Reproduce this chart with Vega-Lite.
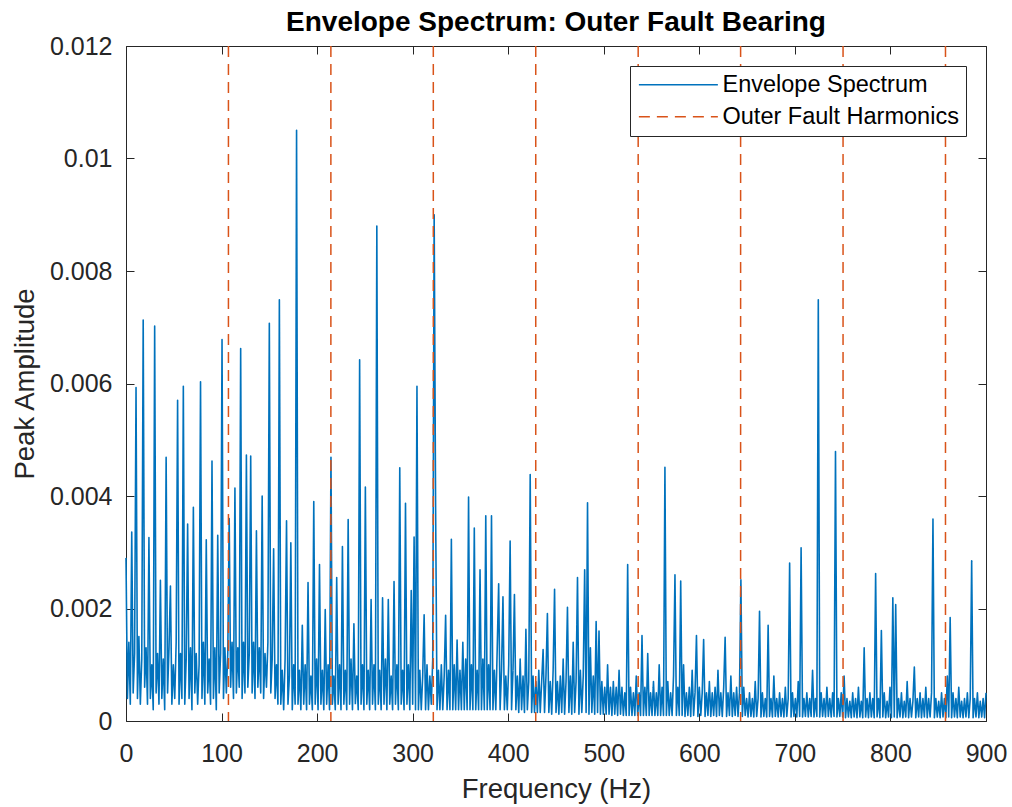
{
"$schema": "https://vega.github.io/schema/vega-lite/v6.json",
"width": 860, "height": 675,
"autosize": {"type": "none"},
"padding": {"left": 126, "top": 46, "right": 26, "bottom": 86},
"background": "white",
"title": {"text": "Envelope Spectrum: Outer Fault Bearing", "font": "Liberation Sans", "fontSize": 28, "fontWeight": "bold", "color": "#000000", "anchor": "middle", "frame": "group", "baseline": "alphabetic", "offset": -25},
"config": {
 "view": {"stroke": null},
 "axis": {"domainColor": "#262626", "tickColor": "#262626", "labelColor": "#262626", "titleColor": "#262626", "grid": false, "labelFont": "Liberation Sans", "titleFont": "Liberation Sans", "labelFontSize": 25, "titleFontSize": 27.5, "titleFontWeight": "normal", "tickSize": -8, "domainWidth": 1, "tickWidth": 1},
 "legend": {"title": null, "orient": "top-right", "offset": 20, "symbolType": "M-1,0H7", "symbolSize": 390, "symbolStrokeWidth": 1.5, "labelOffset": 62, "labelFontSize": 23.5, "labelFont": "Liberation Sans", "labelColor": "#000000", "strokeColor": "#262626", "fillColor": "white", "padding": 7, "rowPadding": 7, "labelLimit": 400}
},
"datasets": {"spec": [
{"f":0,"a":0.0029},{"f":1.5,"a":0.0004},{"f":3,"a":0.0014},{"f":4.5,"a":0.0003},{"f":6,"a":0.00336},{"f":7.5,"a":0.0005},{"f":9,"a":0.0012},{"f":10.5,"a":0.00593},{"f":12,"a":0.0004},{"f":13.5,"a":0.0015},
{"f":15,"a":0.0003},{"f":16.5,"a":0.0011},{"f":18,"a":0.00713},{"f":19.5,"a":0.0006},{"f":21,"a":0.0013},{"f":22.5,"a":0.0003},{"f":24,"a":0.00326},{"f":25.5,"a":0.0004},{"f":27,"a":0.001},{"f":28.5,"a":0.0002},
{"f":30,"a":0.00702},{"f":31.5,"a":0.0005},{"f":33,"a":0.0012},{"f":34.5,"a":0.0003},{"f":36,"a":0.0025},{"f":37.5,"a":0.0004},{"f":39,"a":0.0011},{"f":40.5,"a":0.0002},{"f":42,"a":0.00469},{"f":43.5,"a":0.0005},
{"f":45,"a":0.0013},{"f":46.5,"a":0.0024},{"f":48,"a":0.0003},{"f":49.5,"a":0.001},{"f":51,"a":0.0004},{"f":52.5,"a":0.0014},{"f":54,"a":0.0057},{"f":55.5,"a":0.0003},{"f":57,"a":0.0012},{"f":58.5,"a":0.0004},
{"f":60,"a":0.00595},{"f":61.5,"a":0.0003},{"f":63,"a":0.0011},{"f":64.5,"a":0.0035},{"f":66,"a":0.0004},{"f":67.5,"a":0.0013},{"f":69,"a":0.0002},{"f":70.5,"a":0.0038},{"f":72,"a":0.0005},{"f":73.5,"a":0.0012},
{"f":75,"a":0.0003},{"f":76.5,"a":0.001},{"f":78,"a":0.00603},{"f":79.5,"a":0.0004},{"f":81,"a":0.0014},{"f":82.5,"a":0.0003},{"f":84,"a":0.00322},{"f":85.5,"a":0.0005},{"f":87,"a":0.0011},{"f":88.5,"a":0.0003},
{"f":90,"a":0.00462},{"f":91.5,"a":0.0004},{"f":93,"a":0.0013},{"f":94.5,"a":0.0002},{"f":96,"a":0.0033},{"f":97.5,"a":0.0005},{"f":99,"a":0.0012},{"f":100.5,"a":0.00678},{"f":102,"a":0.0004},{"f":103.5,"a":0.0013},
{"f":105,"a":0.0005},{"f":106.5,"a":0.0012},{"f":108,"a":0.0036},{"f":109.5,"a":0.0006},{"f":111,"a":0.0014},{"f":112.5,"a":0.0004},{"f":114,"a":0.00414},{"f":115.5,"a":0.0005},{"f":117,"a":0.0013},{"f":118.5,"a":0.0006},
{"f":120,"a":0.00662},{"f":121.5,"a":0.0004},{"f":123,"a":0.0014},{"f":124.5,"a":0.0005},{"f":126,"a":0.00473},{"f":127.5,"a":0.0006},{"f":129,"a":0.0012},{"f":130.5,"a":0.00471},{"f":132,"a":0.0005},{"f":133.5,"a":0.0014},
{"f":135,"a":0.0004},{"f":136.5,"a":0.00338},{"f":138,"a":0.0006},{"f":139.5,"a":0.0013},{"f":141,"a":0.0005},{"f":142.5,"a":0.004},{"f":144,"a":0.0004},{"f":145.5,"a":0.0012},{"f":147,"a":0.0006},{"f":148.5,"a":0.0014},
{"f":150,"a":0.00707},{"f":151.5,"a":0.0005},{"f":153,"a":0.0011},{"f":154.5,"a":0.00306},{"f":156,"a":0.0004},{"f":157.5,"a":0.001},{"f":159,"a":0.0003},{"f":160.5,"a":0.00749},{"f":162,"a":0.0003},{"f":163.5,"a":0.0009},
{"f":165,"a":0.0002},{"f":166.5,"a":0.0011},{"f":168,"a":0.00356},{"f":169.5,"a":0.0003},{"f":171,"a":0.0008},{"f":172.5,"a":0.00317},{"f":174,"a":0.0002},{"f":175.5,"a":0.001},{"f":177,"a":0.0003},{"f":178.5,"a":0.0105},
{"f":180,"a":0.0003},{"f":181.5,"a":0.0009},{"f":183,"a":0.0002},{"f":184.5,"a":0.0017},{"f":186,"a":0.0003},{"f":187.5,"a":0.001},{"f":189,"a":0.0002},{"f":190.5,"a":0.00246},{"f":192,"a":0.0003},{"f":193.5,"a":0.0008},
{"f":195,"a":0.0002},{"f":196.5,"a":0.0039},{"f":198,"a":0.0003},{"f":199.5,"a":0.0011},{"f":201,"a":0.0002},{"f":202.5,"a":0.00278},{"f":204,"a":0.0003},{"f":205.5,"a":0.0009},{"f":207,"a":0.0002},{"f":208.5,"a":0.00198},
{"f":210,"a":0.0003},{"f":211.5,"a":0.001},{"f":213,"a":0.0002},{"f":214.5,"a":0.00469},{"f":216,"a":0.0003},{"f":217.5,"a":0.0008},{"f":219,"a":0.0002},{"f":220.5,"a":0.00255},{"f":222,"a":0.0003},{"f":223.5,"a":0.001},
{"f":225,"a":0.0002},{"f":226.5,"a":0.0031},{"f":228,"a":0.0003},{"f":229.5,"a":0.0009},{"f":231,"a":0.0002},{"f":232.5,"a":0.00358},{"f":234,"a":0.0003},{"f":235.5,"a":0.0011},{"f":237,"a":0.0002},{"f":238.5,"a":0.00173},
{"f":240,"a":0.0003},{"f":241.5,"a":0.0008},{"f":243,"a":0.0002},{"f":244.5,"a":0.00642},{"f":246,"a":0.0003},{"f":247.5,"a":0.001},{"f":249,"a":0.0002},{"f":250.5,"a":0.00416},{"f":252,"a":0.0003},{"f":253.5,"a":0.0009},
{"f":255,"a":0.0002},{"f":256.5,"a":0.00216},{"f":258,"a":0.0003},{"f":259.5,"a":0.001},{"f":261,"a":0.0002},{"f":262.5,"a":0.0088},{"f":264,"a":0.0003},{"f":265.5,"a":0.0009},{"f":267,"a":0.0002},{"f":268.5,"a":0.00219},
{"f":270,"a":0.0003},{"f":271.5,"a":0.0011},{"f":273,"a":0.0002},{"f":274.5,"a":0.00216},{"f":276,"a":0.0003},{"f":277.5,"a":0.0008},{"f":279,"a":0.0002},{"f":280.5,"a":0.00248},{"f":282,"a":0.0003},{"f":283.5,"a":0.001},
{"f":285,"a":0.0002},{"f":286.5,"a":0.0045},{"f":288,"a":0.0003},{"f":289.5,"a":0.0009},{"f":291,"a":0.0002},{"f":292.5,"a":0.00387},{"f":294,"a":0.0003},{"f":295.5,"a":0.001},{"f":297,"a":0.0002},{"f":298.5,"a":0.00232},
{"f":300,"a":0.0003},{"f":301.5,"a":0.00327},{"f":303,"a":0.0002},{"f":304.5,"a":0.00595},{"f":306,"a":0.0002},{"f":307.5,"a":0.0009},{"f":309,"a":0.0002},{"f":310.5,"a":0.0008},{"f":312,"a":0.00189},{"f":313.5,"a":0.0002},
{"f":315,"a":0.001},{"f":316.5,"a":0.0002},{"f":318,"a":0.0008},{"f":319.5,"a":0.0003},{"f":321,"a":0.0011},{"f":322.5,"a":0.009},{"f":324,"a":0.0038},{"f":325.5,"a":0.0002},{"f":327,"a":0.0009},{"f":328.5,"a":0.0002},
{"f":330,"a":0.001},{"f":331.5,"a":0.0002},{"f":333,"a":0.0008},{"f":334.5,"a":0.00188},{"f":336,"a":0.0002},{"f":337.5,"a":0.0009},{"f":339,"a":0.0002},{"f":340.5,"a":0.00323},{"f":342,"a":0.0002},{"f":343.5,"a":0.001},
{"f":345,"a":0.0002},{"f":346.5,"a":0.00144},{"f":348,"a":0.0002},{"f":349.5,"a":0.0009},{"f":351,"a":0.0002},{"f":352.5,"a":0.0014},{"f":354,"a":0.0002},{"f":355.5,"a":0.0011},{"f":357,"a":0.0002},{"f":358.5,"a":0.00398},
{"f":360,"a":0.0002},{"f":361.5,"a":0.001},{"f":363,"a":0.0002},{"f":364.5,"a":0.00343},{"f":366,"a":0.0002},{"f":367.5,"a":0.0009},{"f":369,"a":0.0002},{"f":370.5,"a":0.00269},{"f":372,"a":0.0002},{"f":373.5,"a":0.0011},
{"f":375,"a":0.0002},{"f":376.5,"a":0.00365},{"f":378,"a":0.0002},{"f":379.5,"a":0.001},{"f":381,"a":0.0002},{"f":382.5,"a":0.00365},{"f":384,"a":0.0002},{"f":385.5,"a":0.0009},{"f":387,"a":0.0002},{"f":388.5,"a":0.0013},
{"f":390,"a":0.00244},{"f":391.5,"a":0.0002},{"f":393,"a":0.0009},{"f":394.5,"a":0.00221},{"f":396,"a":0.0002},{"f":397.5,"a":0.0008},{"f":399,"a":0.0002},{"f":400.5,"a":0.001},{"f":402,"a":0.0032},{"f":403.5,"a":0.0002},
{"f":405,"a":0.0009},{"f":406.5,"a":0.00225},{"f":408,"a":0.0002},{"f":409.5,"a":0.0008},{"f":411,"a":0.00015},{"f":412.5,"a":0.0011},{"f":414,"a":0.0002},{"f":415.5,"a":0.0008},{"f":417,"a":0.00015},{"f":418.5,"a":0.00163},
{"f":420,"a":0.0002},{"f":421.5,"a":0.0007},{"f":423,"a":0.00438},{"f":424.5,"a":0.00015},{"f":426,"a":0.0008},{"f":427.5,"a":0.00015},{"f":429,"a":0.0007},{"f":430.5,"a":0.00015},{"f":432,"a":0.0009},{"f":433.5,"a":0.00015},
{"f":435,"a":0.0007},{"f":436.5,"a":0.00127},{"f":438,"a":0.00015},{"f":439.5,"a":0.0008},{"f":441,"a":0.00191},{"f":442.5,"a":0.00015},{"f":444,"a":0.0007},{"f":445.5,"a":0.00012},{"f":447,"a":0.0009},{"f":448.5,"a":0.00234},
{"f":450,"a":0.00015},{"f":451.5,"a":0.0007},{"f":453,"a":0.00012},{"f":454.5,"a":0.0008},{"f":456,"a":0.00015},{"f":457.5,"a":0.0011},{"f":459,"a":0.00012},{"f":460.5,"a":0.0007},{"f":462,"a":0.00202},{"f":463.5,"a":0.00015},
{"f":465,"a":0.0008},{"f":466.5,"a":0.00012},{"f":468,"a":0.0014},{"f":469.5,"a":0.00015},{"f":471,"a":0.0007},{"f":472.5,"a":0.00255},{"f":474,"a":0.00012},{"f":475.5,"a":0.0009},{"f":477,"a":0.00015},{"f":478.5,"a":0.0008},
{"f":480,"a":0.00269},{"f":481.5,"a":0.00015},{"f":483,"a":0.00388},{"f":484.5,"a":0.00012},{"f":486,"a":0.0013},{"f":487.5,"a":0.00015},{"f":489,"a":0.0008},{"f":490.5,"a":0.00012},{"f":492,"a":0.00177},{"f":493.5,"a":0.00015},
{"f":495,"a":0.0016},{"f":496.5,"a":0.00012},{"f":498,"a":0.0007},{"f":499.5,"a":0.00012},{"f":501,"a":0.0006},{"f":502.5,"a":0.00012},{"f":504,"a":0.001},{"f":505.5,"a":0.00012},{"f":507,"a":0.0006},{"f":508.5,"a":0.0001},
{"f":510,"a":0.0007},{"f":511.5,"a":0.00012},{"f":513,"a":0.0006},{"f":514.5,"a":0.0001},{"f":516,"a":0.0009},{"f":517.5,"a":0.00012},{"f":519,"a":0.0006},{"f":520.5,"a":0.0001},{"f":522,"a":0.0005},{"f":523.5,"a":0.0001},
{"f":525,"a":0.00278},{"f":526.5,"a":0.0001},{"f":528,"a":0.0006},{"f":529.5,"a":0.0001},{"f":531,"a":0.0005},{"f":532.5,"a":0.0001},{"f":534,"a":0.0008},{"f":535.5,"a":0.0001},{"f":537,"a":0.0005},{"f":538.5,"a":0.0001},
{"f":540,"a":0.00152},{"f":541.5,"a":0.0001},{"f":543,"a":0.0006},{"f":544.5,"a":0.0001},{"f":546,"a":0.0012},{"f":547.5,"a":0.0001},{"f":549,"a":0.0005},{"f":550.5,"a":0.0001},{"f":552,"a":0.0007},{"f":553.5,"a":0.0001},
{"f":555,"a":0.0005},{"f":556.5,"a":0.0001},{"f":558,"a":0.001},{"f":559.5,"a":0.0001},{"f":561,"a":0.0006},{"f":562.5,"a":0.0001},{"f":564,"a":0.00451},{"f":565.5,"a":0.0001},{"f":567,"a":0.0007},{"f":568.5,"a":0.0001},
{"f":570,"a":0.0005},{"f":571.5,"a":0.0001},{"f":573,"a":0.0008},{"f":574.5,"a":0.0026},{"f":576,"a":0.0001},{"f":577.5,"a":0.0006},{"f":579,"a":0.0001},{"f":580.5,"a":0.00249},{"f":582,"a":0.0001},{"f":583.5,"a":0.001},
{"f":585,"a":0.00008},{"f":586.5,"a":0.0005},{"f":588,"a":0.0001},{"f":589.5,"a":0.0006},{"f":591,"a":0.00008},{"f":592.5,"a":0.0009},{"f":594,"a":0.0001},{"f":595.5,"a":0.0005},{"f":597,"a":0.00152},{"f":598.5,"a":0.00008},
{"f":600,"a":0.0006},{"f":601.5,"a":0.0001},{"f":603,"a":0.0005},{"f":604.5,"a":0.00145},{"f":606,"a":0.00008},{"f":607.5,"a":0.0005},{"f":609,"a":0.0001},{"f":610.5,"a":0.0007},{"f":612,"a":0.00008},{"f":613.5,"a":0.0005},
{"f":615,"a":0.0001},{"f":616.5,"a":0.0006},{"f":618,"a":0.00008},{"f":619.5,"a":0.0009},{"f":621,"a":0.0001},{"f":622.5,"a":0.0005},{"f":624,"a":0.00008},{"f":625.5,"a":0.0006},{"f":627,"a":0.00149},{"f":628.5,"a":0.00008},
{"f":630,"a":0.0005},{"f":631.5,"a":0.0001},{"f":633,"a":0.0008},{"f":634.5,"a":0.00008},{"f":636,"a":0.0005},{"f":637.5,"a":0.0001},{"f":639,"a":0.0006},{"f":640.5,"a":0.00008},{"f":642,"a":0.0005},{"f":643.5,"a":0.00251},
{"f":645,"a":0.00008},{"f":646.5,"a":0.0006},{"f":648,"a":0.0001},{"f":649.5,"a":0.0004},{"f":651,"a":0.00007},{"f":652.5,"a":0.0005},{"f":654,"a":0.00008},{"f":655.5,"a":0.0004},{"f":657,"a":0.00007},{"f":658.5,"a":0.0007},
{"f":660,"a":0.00008},{"f":661.5,"a":0.0004},{"f":663,"a":0.00195},{"f":664.5,"a":0.00007},{"f":666,"a":0.0005},{"f":667.5,"a":0.00008},{"f":669,"a":0.0004},{"f":670.5,"a":0.00007},{"f":672,"a":0.0017},{"f":673.5,"a":0.00008},
{"f":675,"a":0.0004},{"f":676.5,"a":0.00007},{"f":678,"a":0.0008},{"f":679.5,"a":0.00008},{"f":681,"a":0.0004},{"f":682.5,"a":0.00007},{"f":684,"a":0.0005},{"f":685.5,"a":0.00008},{"f":687,"a":0.0004},{"f":688.5,"a":0.00007},
{"f":690,"a":0.0006},{"f":691.5,"a":0.00008},{"f":693,"a":0.0004},{"f":694.5,"a":0.00281},{"f":696,"a":0.00007},{"f":697.5,"a":0.0005},{"f":699,"a":0.00008},{"f":700.5,"a":0.0004},{"f":702,"a":0.00007},{"f":703.5,"a":0.0007},
{"f":705,"a":0.00008},{"f":706.5,"a":0.00308},{"f":708,"a":0.00007},{"f":709.5,"a":0.0004},{"f":711,"a":0.00008},{"f":712.5,"a":0.0005},{"f":714,"a":0.00007},{"f":715.5,"a":0.0004},{"f":717,"a":0.00008},{"f":718.5,"a":0.0009},
{"f":720,"a":0.00007},{"f":721.5,"a":0.0004},{"f":723,"a":0.00008},{"f":724.5,"a":0.00749},{"f":726,"a":0.00007},{"f":727.5,"a":0.0005},{"f":729,"a":0.00008},{"f":730.5,"a":0.0004},{"f":732,"a":0.00007},{"f":733.5,"a":0.0006},
{"f":735,"a":0.00008},{"f":736.5,"a":0.0004},{"f":738,"a":0.00007},{"f":739.5,"a":0.0005},{"f":741,"a":0.00008},{"f":742.5,"a":0.00479},{"f":744,"a":0.00007},{"f":745.5,"a":0.0004},{"f":747,"a":0.00008},{"f":748.5,"a":0.0005},
{"f":750,"a":0.00007},{"f":751.5,"a":0.0008},{"f":753,"a":0.00006},{"f":754.5,"a":0.0004},{"f":756,"a":0.00007},{"f":757.5,"a":0.00035},{"f":759,"a":0.00006},{"f":760.5,"a":0.0005},{"f":762,"a":0.00007},{"f":763.5,"a":0.0004},
{"f":765,"a":0.00006},{"f":766.5,"a":0.0006},{"f":768,"a":0.00007},{"f":769.5,"a":0.00035},{"f":771,"a":0.00006},{"f":772.5,"a":0.0013},{"f":774,"a":0.00007},{"f":775.5,"a":0.0004},{"f":777,"a":0.00006},{"f":778.5,"a":0.0005},
{"f":780,"a":0.00007},{"f":781.5,"a":0.0004},{"f":783,"a":0.00006},{"f":784.5,"a":0.00262},{"f":786,"a":0.00007},{"f":787.5,"a":0.0004},{"f":789,"a":0.00006},{"f":790.5,"a":0.00161},{"f":792,"a":0.00007},{"f":793.5,"a":0.0005},
{"f":795,"a":0.00006},{"f":796.5,"a":0.00035},{"f":798,"a":0.00007},{"f":799.5,"a":0.0006},{"f":801,"a":0.00006},{"f":802.5,"a":0.00219},{"f":804,"a":0.00007},{"f":805.5,"a":0.00207},{"f":807,"a":0.00006},{"f":808.5,"a":0.0004},
{"f":810,"a":0.00007},{"f":811.5,"a":0.0005},{"f":813,"a":0.00006},{"f":814.5,"a":0.00035},{"f":816,"a":0.00007},{"f":817.5,"a":0.0007},{"f":819,"a":0.00006},{"f":820.5,"a":0.0004},{"f":822,"a":0.00007},{"f":823.5,"a":0.00035},
{"f":825,"a":0.00096},{"f":826.5,"a":0.00006},{"f":828,"a":0.0004},{"f":829.5,"a":0.00007},{"f":831,"a":0.0005},{"f":832.5,"a":0.00006},{"f":834,"a":0.0004},{"f":835.5,"a":0.00007},{"f":837,"a":0.0006},{"f":838.5,"a":0.00006},
{"f":840,"a":0.0004},{"f":841.5,"a":0.00007},{"f":843,"a":0.0005},{"f":844.5,"a":0.00359},{"f":846,"a":0.00006},{"f":847.5,"a":0.0004},{"f":849,"a":0.00007},{"f":850.5,"a":0.00035},{"f":852,"a":0.00006},{"f":853.5,"a":0.0005},
{"f":855,"a":0.00007},{"f":856.5,"a":0.0004},{"f":858,"a":0.00006},{"f":859.5,"a":0.0008},{"f":861,"a":0.00007},{"f":862.5,"a":0.00184},{"f":864,"a":0.00006},{"f":865.5,"a":0.0005},{"f":867,"a":0.00007},{"f":868.5,"a":0.0004},
{"f":870,"a":0.00006},{"f":871.5,"a":0.0006},{"f":873,"a":0.00007},{"f":874.5,"a":0.00035},{"f":876,"a":0.00006},{"f":877.5,"a":0.0004},{"f":879,"a":0.00007},{"f":880.5,"a":0.0005},{"f":882,"a":0.00006},{"f":883.5,"a":0.0004},
{"f":885,"a":0.00285},{"f":886.5,"a":0.00006},{"f":888,"a":0.0004},{"f":889.5,"a":0.00007},{"f":891,"a":0.0005},{"f":892.5,"a":0.00006},{"f":894,"a":0.00035},{"f":895.5,"a":0.00007},{"f":897,"a":0.0004},{"f":898.5,"a":0.00006},
{"f":900,"a":0.0005}
]},
"layer": [
 {"data": {"name": "spec"},
  "mark": {"type": "line", "strokeWidth": 1.6, "strokeJoin": "round"},
  "encoding": {
   "x": {"field": "f", "type": "quantitative", "scale": {"domain": [0, 900], "nice": false, "zero": false},
         "axis": {"orient": "bottom", "values": [0,100,200,300,400,500,600,700,800,900], "title": "Frequency (Hz)", "labelPadding": 48, "labelBaseline": "alphabetic", "labelFlush": false, "labelOverlap": false, "titleY": 76, "titleBaseline": "alphabetic"}},
   "y": {"field": "a", "type": "quantitative", "scale": {"domain": [0, 0.012], "nice": false},
         "axis": {"orient": "left", "values": [0,0.002,0.004,0.006,0.008,0.01,0.012], "format": "~g", "title": "Peak Amplitude", "labelPadding": 22, "labelFlush": false, "labelOverlap": false, "titleX": -93, "titleBaseline": "alphabetic"}},
   "color": {"datum": "Envelope Spectrum", "type": "nominal", "scale": {"domain": ["Envelope Spectrum", "Outer Fault Harmonics"], "range": ["#0072BD", "#D95319"]}},
   "strokeDash": {"datum": "Envelope Spectrum", "type": "nominal", "scale": {"domain": ["Envelope Spectrum", "Outer Fault Harmonics"], "range": [[1,0],[11,7]]}}
  }},
 {"data": {"values": [{"h":107.2},{"h":214.4},{"h":321.6},{"h":428.8},{"h":536.0},{"h":643.2},{"h":750.4},{"h":857.6}]},
  "mark": {"type": "rule", "strokeWidth": 1.5},
  "encoding": {
   "x": {"field": "h", "type": "quantitative", "axis": {"orient": "top", "values": [0,100,200,300,400,500,600,700,800,900], "labels": false, "title": null}},
   "color": {"datum": "Outer Fault Harmonics", "type": "nominal"},
   "strokeDash": {"datum": "Outer Fault Harmonics", "type": "nominal"}
  }},
 {"data": {"values": [{"a": 0}]},
  "mark": {"type": "rule", "opacity": 0},
  "encoding": {
   "y": {"field": "a", "type": "quantitative", "axis": {"orient": "right", "values": [0,0.002,0.004,0.006,0.008,0.01,0.012], "labels": false, "title": null}}
  }}
],
"resolve": {"axis": {"x": "independent", "y": "independent"}}
}
